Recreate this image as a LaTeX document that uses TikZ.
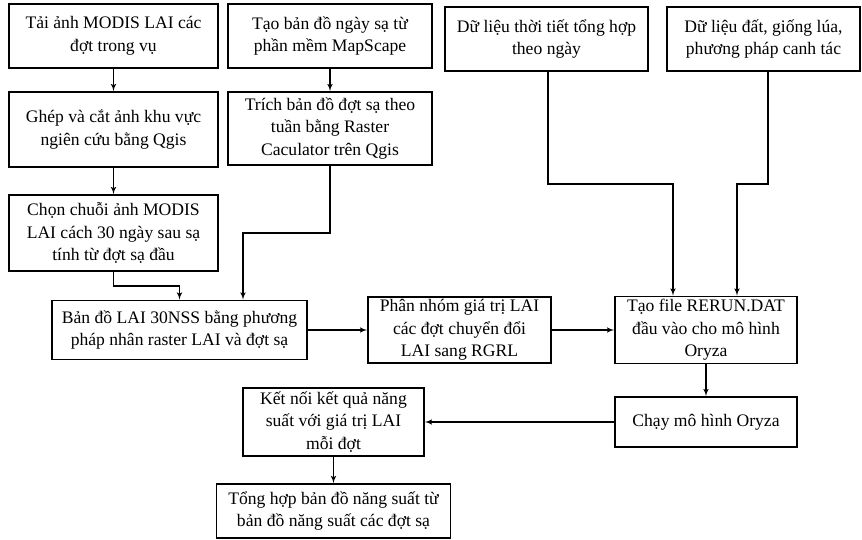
\documentclass[tikz,border=0pt]{standalone}
\usepackage{fontspec}
\setmainfont{Liberation Serif}
\usetikzlibrary{shapes, arrows}

\begin{document}
\begin{tikzpicture}[x=1pt, y=-1pt]
		\tikzstyle{terminator} = [rectangle, draw, line width=1.7pt, align=center, inner sep=1pt, font=\fontsize{17.6}{22.5}\selectfont]
		\tikzstyle{connector} = [draw, line width=1.5pt, -latex']
		\useasboundingbox (0,0) rectangle (862,540);
		\node [terminator, minimum width=209, minimum height=64] at (113.5,36) (data10) {Tải ảnh MODIS LAI các\\đợt trong vụ};
		\node [terminator, minimum width=209, minimum height=75] at (113.5,129.5) (data11) {Ghép và cắt ảnh khu vực\\ngiên cứu bằng Qgis};
		\node [terminator, minimum width=209, minimum height=76] at (113.5,233) (data12) {Chọn chuỗi ảnh MODIS\\LAI cách 30 ngày sau sạ\\tính từ đợt sạ đầu};
		\node [terminator, minimum width=204, minimum height=64] at (330,36) (data20) {Tạo bản đồ ngày sạ từ\\phần mềm MapScape};
		\node [terminator, minimum width=204, minimum height=73] at (330,128.5) (data21) {Trích bản đồ đợt sạ theo\\tuần bằng Raster\\Caculator trên Qgis};
		\node [terminator, minimum width=203, minimum height=64] at (546.5,39) (data30) {Dữ liệu thời tiết tổng hợp\\theo ngày};
		\node [terminator, minimum width=193, minimum height=64] at (763.5,39) (data40) {Dữ liệu đất, giống lúa,\\phương pháp canh tác};
		\node [terminator, minimum width=255, minimum height=59] at (179.5,330) (data13) {Bản đồ LAI 30NSS bằng phương\\pháp nhân raster LAI và đợt sạ};
		\node [terminator, minimum width=183, minimum height=66] at (459.5,330) (data14) {Phân nhóm giá trị LAI\\các đợt chuyển đổi\\LAI sang RGRL};
		\node [terminator, minimum width=182, minimum height=67] at (706,330) (data41) {Tạo file RERUN.DAT\\đầu vào cho mô hình\\Oryza};
		\node [terminator, minimum width=182, minimum height=50] at (706,422) (data42) {Chạy mô hình Oryza};
		\node [terminator, minimum width=181, minimum height=68] at (333.5,422) (data15) {Kết nối kết quả năng\\suất với giá trị LAI\\mỗi đợt};
		\node [terminator, minimum width=234, minimum height=54] at (333.5,511) (data16) {Tổng hợp bản đồ năng suất từ\\bản đồ năng suất các đợt sạ};
		\path [connector] (data10) -- (data11);
		\path [connector] (data11) -- (data12);
		\path [connector] (data20) -- (data21);
		\path [connector] (data12.south) -- ++(0,14) -| (data13.north);
		\path [connector] (data21.south) -- ++(0,67) -| ([xshift=63.5]data13.north);
		\path [connector] ([xshift=1.5]data30.south) -- ++(0,112) -| ([xshift=-33]data41.north);
		\path [connector] ([xshift=4.5]data40.south) -- ++(0,112) -| ([xshift=31]data41.north);
		\path [connector] (data13) -- (data14);
		\path [connector] (data14) -- (data41);
		\path [connector] (data41) -- (data42);
		\path [connector] (data42) -- (data15);
		\path [connector] (data15) -- (data16);
	\end{tikzpicture}
\end{document}
